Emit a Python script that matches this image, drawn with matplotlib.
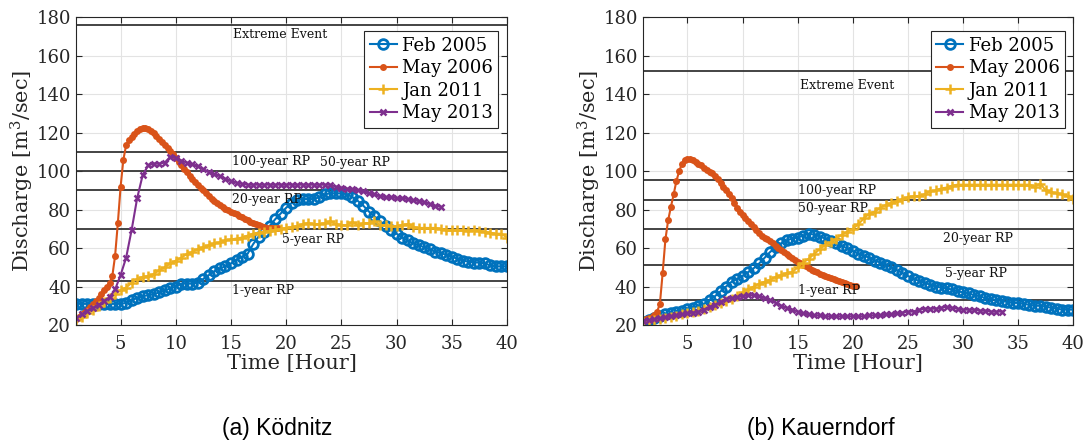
import numpy as np
import matplotlib
matplotlib.use("Agg")
import matplotlib.pyplot as plt

plt.rcParams['font.family'] = ['DejaVu Serif']
plt.rcParams['mathtext.fontset'] = 'dejavuserif'

# ---- data: Ködnitz (left panel) ----
# half-hour samples from t=1 h, May 2006 in quarter-hour samples
kod_feb2005 = [31, 31, 31, 31, 31, 31, 31, 31, 31, 31.5, 33, 34, 35, 35.5, 36, 37, 38, 39, 40, 41.5,
               41.5, 41.5, 42, 44, 46, 48, 49.5, 50.5, 52, 54, 55.5, 57, 62, 66, 68.5, 71.5, 75, 78,
               81, 83.5, 85, 85.5, 85.5, 85.5, 86.5, 88, 88.5, 88.5, 88.5, 88, 86.5, 84.5, 82, 79,
               76.5, 74, 71.5, 69.5, 67.5, 65.5, 64, 62.5, 61.5, 60.5, 59.5, 58, 57.5, 56.5, 55.5,
               54.5, 53.5, 53, 52.5, 52.5, 52, 51, 50.5, 50.5, 50.5]
kod_may2006 = [23, 24.2, 25.5, 26.7, 28, 29.5, 31, 32.5, 34, 36, 38, 40, 42, 45.5, 56, 73, 92, 106,
               113.5, 116, 118, 119.5, 121, 122, 122.5, 122.5, 122, 121, 120, 118.5, 117, 115,
               113.5, 112, 110.5, 109, 107, 105, 103, 101.2, 99.5, 97.7, 96, 94.5, 93, 91.5, 90,
               88.5, 87, 85.7, 84.5, 83.5, 82.5, 81.5, 80.5, 79.7, 79, 78.2, 77.5, 76.7, 76, 75.2,
               74.5, 73.7, 73, 72.5, 72, 71.5, 71, 70.7, 70.5, 70.5, 70.5, 70.5]
kod_jan2011 = [22.5, 24, 26, 28, 30, 32, 34, 36, 38, 39.5, 42, 44, 45, 45.5, 46.5, 48.5, 50, 52,
               53.5, 55, 57, 58, 59.5, 60.5, 61.5, 62.5, 63, 64, 64.5, 65, 65.5, 66.5, 67.5, 68,
               68.5, 69, 69.5, 70, 70.5, 71, 71.5, 72.5, 73, 72.5, 72.5, 73, 74, 72.5, 72, 72,
               73.5, 72, 73, 73, 74, 72, 72, 71.5, 71.5, 72, 72.5, 71, 70.5, 70.5, 70.5, 70.5, 70,
               69.5, 69.5, 69.5, 69.5, 69, 69.5, 69, 68.5, 68, 67.5, 67.5, 65.5]
kod_may2013 = [23.5, 25.5, 27.5, 29, 30.5, 32.5, 34.5, 38.5, 46, 55, 69.5, 86, 98, 103, 104, 104,
               104.5, 107.5, 107, 105.5, 104.5, 103.5, 102.5, 101, 99.5, 98.5, 97.5, 96, 95, 94,
               93.5, 93, 93, 93, 93, 93, 93, 93, 93, 93, 93, 93, 93, 93, 93, 93, 93, 92, 91.5, 91,
               90.5, 90, 89.5, 88.5, 88, 87, 86.5, 86.5, 86, 86, 85.5, 85, 84.5, 84, 83, 82, 81.5]
kod_levels = [176, 110, 100, 90, 70, 42.7]
kod_level_text = ["Extreme Event", "100-year RP", "50-year RP", "20-year RP", "5-year RP", "1-year RP"]
kod_text_x = [15.2, 15.1, 23.1, 15.1, 19.6, 15.1]
kod_text_y = [171, 105, 104.5, 85.2, 64.5, 38]

# ---- data: Kauerndorf (right panel) ----
kau_feb2005 = [21.5, 22.5, 23.5, 24.5, 25.5, 26, 27, 27.5, 28.5, 29, 30, 31, 33, 35, 37.5, 40, 42.5,
               44, 45.5, 47.5, 49.5, 52, 55, 58, 60.5, 62.5, 64, 65, 65.5, 66.5, 67.5, 67, 66, 65,
               63.5, 62.5, 61, 60, 58.5, 57, 56, 55, 53.5, 52.5, 51, 50, 48.5, 47, 45.5, 44, 43,
               42, 41, 40, 39.5, 39, 38.5, 37.5, 37, 36.5, 35.5, 35, 34, 33.5, 33, 32.5, 32, 31.5,
               31.5, 31, 30.5, 30, 30, 29.5, 29, 28.5, 28, 28, 28]
kau_may2006 = [22.5, 23, 23.5, 24, 25, 27, 31, 47, 64.5, 74.5, 81.5, 88, 95, 100, 104, 106, 106.5,
               106.5, 106, 105, 104, 103, 101.5, 100.5, 99.5, 99, 97.5, 96, 94, 92, 90, 88, 86,
               83.5, 81, 79, 77, 75.5, 74, 72.5, 71, 69.5, 68, 66.5, 65.5, 64.5, 63.5, 62.5, 61,
               60, 59, 58, 57, 56, 55, 54, 53, 52, 51, 50.5, 49.5, 48.5, 48, 47.5, 46.5, 46, 45.5,
               45, 44.5, 44, 43.5, 43, 42.5, 42, 41.5, 41, 40.5, 40.5]
kau_jan2011 = [21.5, 22, 22.5, 23, 23.5, 24, 24.5, 25.5, 26, 27, 27.5, 28.5, 29.5, 30.5, 31.5, 32.5,
               33.5, 35, 37, 38.5, 40, 41.5, 42.5, 43.5, 45, 46, 47, 47.5, 50, 52.5, 54.5, 57,
               59.5, 61.5, 63, 65, 67, 68.5, 70, 72.5, 75.5, 78, 79, 81, 82.5, 83.5, 84.5, 85.5,
               86.5, 87, 87, 88, 89.5, 90, 91, 91.5, 92.5, 93, 93, 93, 93, 93, 93, 93, 93, 93, 93,
               93, 93, 93, 93, 92, 93.5, 90, 89, 88.5, 88, 87, 85.5]
kau_may2013 = [22, 22.5, 23, 23.5, 24, 24.5, 25, 25.5, 26, 26.5, 27, 28, 29.5, 30.5, 32, 33.5, 34,
               34.5, 35, 35.5, 35.5, 35, 34, 33, 31.5, 30, 29, 28, 27, 26, 25.5, 25, 25, 24.5, 24.5,
               24.5, 24.5, 24.5, 24.5, 24.5, 24.5, 25, 25, 25, 25.5, 25.5, 26, 26.5, 27, 27, 28,
               28.5, 28.5, 28.5, 29, 29.5, 29, 28.5, 28, 28, 28, 27.5, 27.5, 27, 27, 27]
kau_levels = [152, 95.3, 85.2, 70, 51, 33]
kau_level_text = ["Extreme Event", "100-year RP", "50-year RP", "20-year RP", "5-year RP", "1-year RP"]
kau_text_x = [15.2, 15.0, 15.0, 28.2, 28.4, 15.0]
kau_text_y = [144.8, 90, 80.5, 65, 47, 37.8]

legend_labels = ["Feb 2005", "May 2006", "Jan 2011", "May 2013"]
colors = ["#0072BD", "#D95319", "#EDB120", "#7E2F8E"]


def times(values, step):
    return 1 + step * np.arange(len(values))


def draw_panel(ax, series, levels, level_text, tx, ty):
    feb, may06, jan, may13 = series
    ax.plot(times(feb, 0.5), feb, "-o", color=colors[0], lw=1.5, ms=7,
            mfc="none", mew=2.0, label=legend_labels[0])
    ax.plot(times(may06, 0.25), may06, "-o", color=colors[1], lw=1.5, ms=5,
            mew=0, label=legend_labels[1])
    ax.plot(times(jan, 0.5), jan, "-+", color=colors[2], lw=1.5, ms=6.5,
            mew=1.8, label=legend_labels[2])
    ax.plot(times(may13, 0.5), may13, "-x", color=colors[3], lw=1.5, ms=5,
            mew=1.8, label=legend_labels[3])

    for lev in levels:
        ax.axhline(lev, color="#353535", lw=1.3, zorder=1)
    for s, x, y in zip(level_text, tx, ty):
        ax.text(x, y, s, fontsize=9, va="center", ha="left", color="#111111")

    ax.set_xlim(1, 40)
    ax.set_ylim(20, 180)
    ax.set_xticks(np.arange(5, 41, 5))
    ax.set_yticks(np.arange(20, 181, 20))
    ax.grid(True, color="#e3e3e3", lw=0.8)
    ax.set_axisbelow(True)
    ax.tick_params(direction="in", top=True, right=True, labelsize=13,
                   length=4, width=0.8, colors="#262626")
    ax.tick_params(axis="x", pad=7)
    ax.tick_params(axis="y", pad=4)
    for sp in ax.spines.values():
        sp.set_color("#262626")
        sp.set_linewidth(0.8)
    ax.set_xlabel("Time [Hour]", fontsize=15, color="#262626", labelpad=1)
    ax.set_ylabel("Discharge [m$^3$/sec]", fontsize=15, color="#262626", labelpad=0)
    leg = ax.legend(loc="upper right", bbox_to_anchor=(0.98, 0.955), fontsize=13,
                    handlelength=1.5, handletextpad=0.3, borderpad=0.3,
                    labelspacing=0.25, borderaxespad=0, fancybox=False, framealpha=1)
    leg.get_frame().set_edgecolor("#262626")
    leg.get_frame().set_linewidth(0.8)


fig = plt.figure(figsize=(10.86, 4.41), dpi=100)
ax1 = fig.add_axes([0.0704, 0.263, 0.3964, 0.6975])
ax2 = fig.add_axes([0.5924, 0.263, 0.396, 0.6975])

draw_panel(ax1, [kod_feb2005, kod_may2006, kod_jan2011, kod_may2013],
           kod_levels, kod_level_text, kod_text_x, kod_text_y)
draw_panel(ax2, [kau_feb2005, kau_may2006, kau_jan2011, kau_may2013],
           kau_levels, kau_level_text, kau_text_x, kau_text_y)

fig.text(277 / 1086, 1 - 429 / 441, "(a) Ködnitz", family="Liberation Sans",
         fontsize=16.5, ha="center", va="center")
fig.text(821 / 1086, 1 - 429 / 441, "(b) Kauerndorf", family="Liberation Sans",
         fontsize=16.5, ha="center", va="center")

fig.savefig("out.png", dpi=100)
